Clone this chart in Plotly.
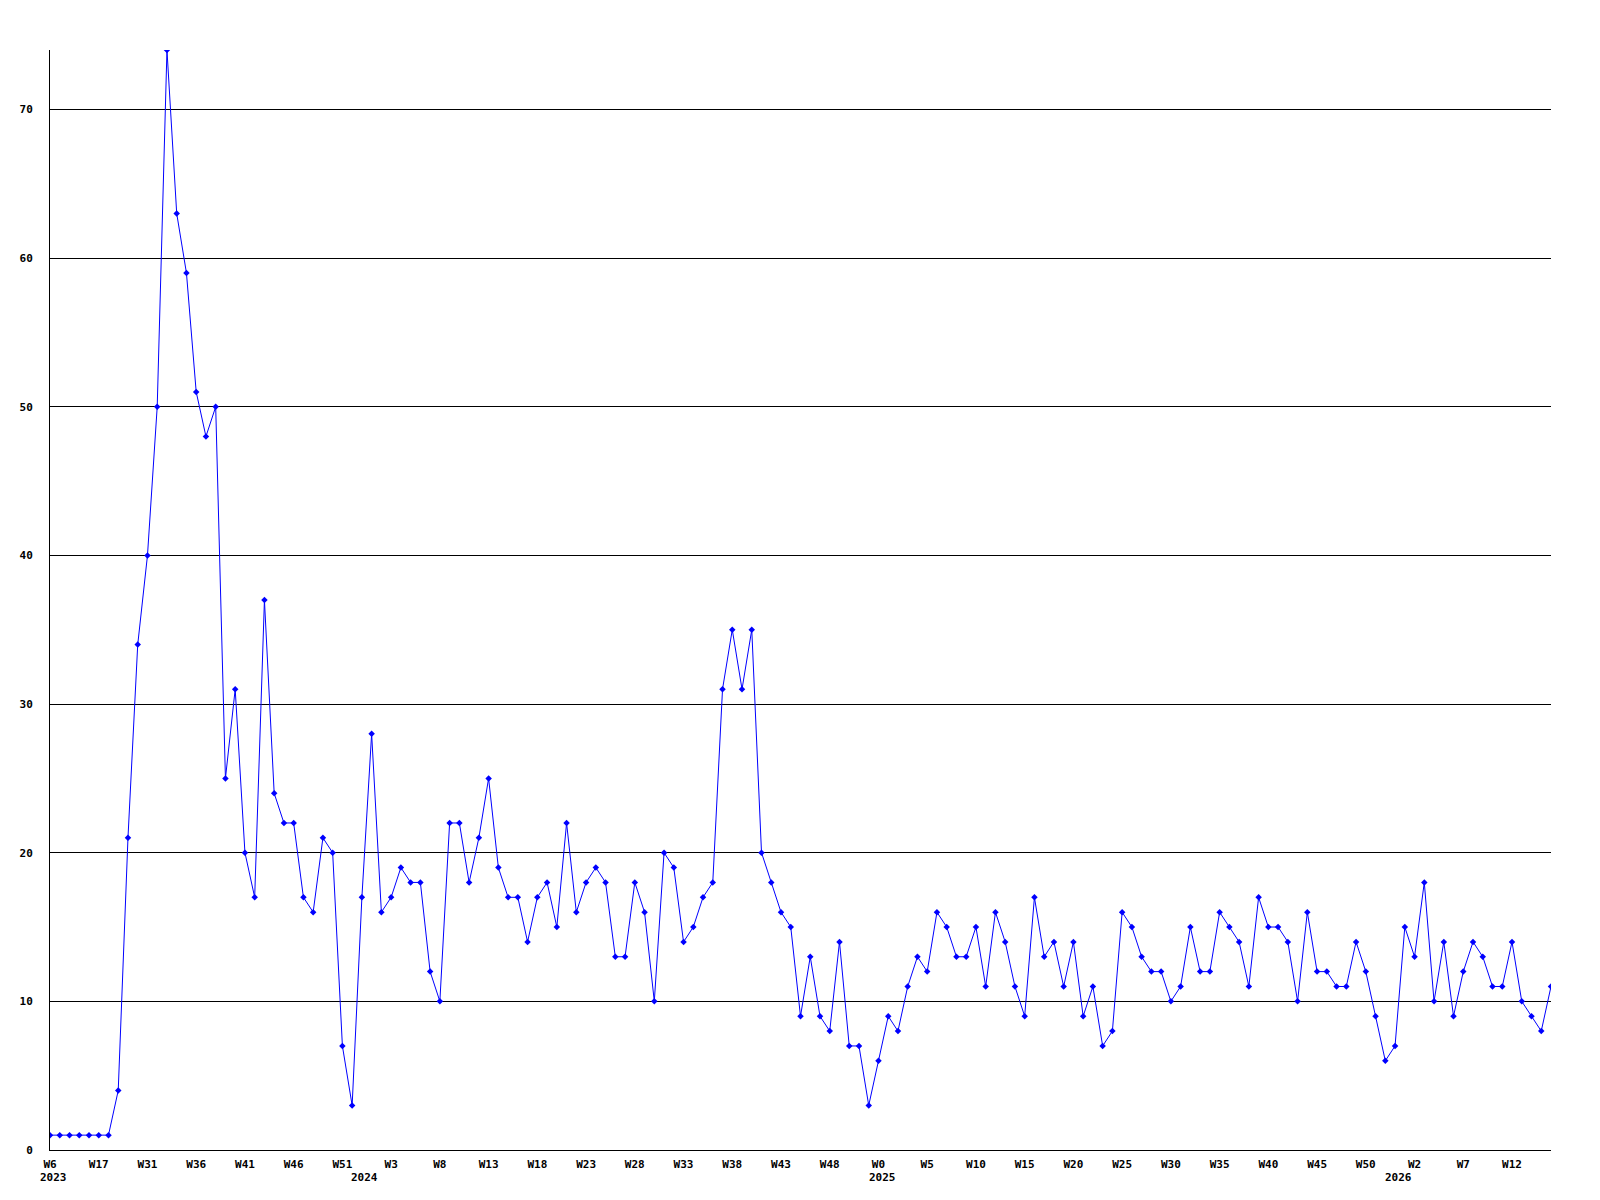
import plotly.graph_objects as go

values = [1, 1, 1, 1, 1, 1, 1, 4, 21, 34, 40, 50, 74, 63, 59, 51, 48, 50, 25, 31,
          20, 17, 37, 24, 22, 22, 17, 16, 21, 20, 7, 3, 17, 28, 16, 17, 19, 18, 18, 12,
          10, 22, 22, 18, 21, 25, 19, 17, 17, 14, 17, 18, 15, 22, 16, 18, 19, 18, 13, 13,
          18, 16, 10, 20, 19, 14, 15, 17, 18, 31, 35, 31, 35, 20, 18, 16, 15, 9, 13, 9,
          8, 14, 7, 7, 3, 6, 9, 8, 11, 13, 12, 16, 15, 13, 13, 15, 11, 16, 14, 11,
          9, 17, 13, 14, 11, 14, 9, 11, 7, 8, 16, 15, 13, 12, 12, 10, 11, 15, 12, 12,
          16, 15, 14, 11, 17, 15, 15, 14, 10, 16, 12, 12, 11, 11, 14, 12, 9, 6, 7, 15,
          13, 18, 10, 14, 9, 12, 14, 13, 11, 11, 14, 10, 9, 8, 11]

tick_labels = ["W6", "W17", "W31", "W36", "W41", "W46", "W51", "W3",
               "W8", "W13", "W18", "W23", "W28", "W33", "W38", "W43", "W48",
               "W0", "W5", "W10", "W15", "W20", "W25", "W30", "W35", "W40",
               "W45", "W50", "W2", "W7", "W12"]
tick_step = 5

year_labels = ["2023", "2024", "2025", "2026"]
year_starts = [0.4, 32.3, 85.4, 138.4]   # week index where each year begins

x = list(range(len(values)))
tickvals = [i * tick_step for i in range(len(tick_labels))]

fig = go.Figure()
fig.add_trace(go.Scatter(
    x=x, y=values, mode="lines+markers",
    line=dict(color="#0000ff", width=1),
    marker=dict(symbol="diamond", size=5, color="#0000ff"),
    showlegend=False, hoverinfo="skip",
))

font = dict(family="DejaVu Sans Mono", size=11, color="black", weight="bold")

for lbl, xs in zip(year_labels, year_starts):
    fig.add_annotation(
        x=xs, xref="x", y=0, yref="paper", text=lbl, showarrow=False,
        xanchor="center", yanchor="middle", yshift=-27, font=font,
    )

fig.update_layout(
    width=1600, height=1200,
    margin=dict(l=42, r=57, t=42, b=58),
    paper_bgcolor="white", plot_bgcolor="white",
    font=font,
)
fig.update_xaxes(
    range=[0, len(values) - 1],
    tickmode="array", tickvals=tickvals, ticktext=tick_labels,
    showgrid=False, zeroline=False,
    showline=True, linecolor="black", linewidth=1,
    ticks="", tickfont=font, ticklabelstandoff=4,
)
fig.update_yaxes(
    range=[0, 74],
    tickmode="array", tickvals=[0, 10, 20, 30, 40, 50, 60, 70],
    showgrid=True, gridcolor="black", gridwidth=1,
    zeroline=False,
    showline=True, linecolor="black", linewidth=1,
    ticks="", tickfont=font, ticklabelstandoff=14,
)

fig.write_html("out.html")
